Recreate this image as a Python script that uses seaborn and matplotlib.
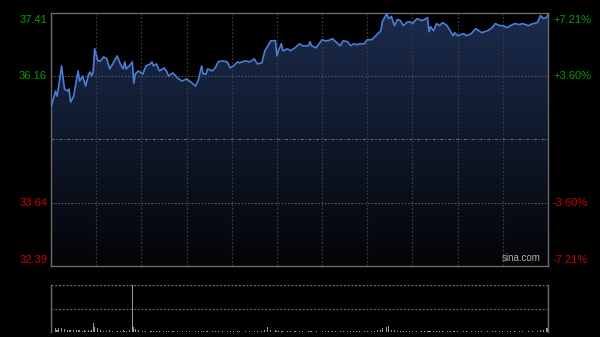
import numpy as np
import pandas as pd
import matplotlib
matplotlib.use("Agg")
import matplotlib.pyplot as plt
import seaborn as sns

# ---- data ----
minutes = [0, 3, 4, 5, 7, 9, 11, 12, 13, 15,
           17, 18, 19, 21, 22, 23, 25, 26, 27, 28,
           29, 31, 33, 35, 37, 39, 41, 44, 46, 48,
           49, 50, 52, 54, 55, 56, 58, 61, 63, 66,
           67, 68, 70, 72, 75, 77, 78, 81, 84, 87,
           90, 92, 96, 98, 100, 101, 103, 104, 107, 109,
           111, 114, 117, 119, 121, 124, 125, 129, 132, 135,
           137, 140, 142, 144, 146, 149, 150, 151, 153, 154,
           157, 159, 162, 165, 167, 171, 172, 173, 176, 180,
           182, 184, 187, 189, 192, 194, 197, 199, 201, 203,
           205, 208, 210, 213, 215, 217, 219, 220, 223, 224,
           226, 228, 230, 232, 234, 236, 238, 240, 243, 246,
           248, 250, 251, 252, 254, 256, 258, 260, 263, 265,
           267, 268, 270, 274, 276, 279, 282, 284, 286, 290,
           293, 295, 298, 300, 303, 305, 308, 311, 313, 317,
           320, 323, 325, 327, 329, 330]

prices = [35.54, 35.86, 35.76, 35.94, 36.36, 35.90, 35.86, 35.90, 35.64, 35.76,
          36.10, 36.26, 36.06, 36.16, 36.06, 35.96, 36.20, 36.24, 36.16, 36.24,
          36.70, 36.46, 36.46, 36.54, 36.50, 36.30, 36.40, 36.56, 36.40, 36.30,
          36.44, 36.30, 36.36, 36.44, 36.02, 36.20, 36.26, 36.20, 36.36, 36.40,
          36.44, 36.36, 36.40, 36.26, 36.32, 36.24, 36.16, 36.22, 36.12, 36.06,
          36.10, 36.06, 35.96, 36.10, 36.36, 36.20, 36.20, 36.30, 36.26, 36.32,
          36.44, 36.46, 36.44, 36.32, 36.36, 36.44, 36.42, 36.46, 36.44, 36.50,
          36.40, 36.42, 36.66, 36.76, 36.86, 36.86, 36.56, 36.66, 36.80, 36.66,
          36.70, 36.66, 36.72, 36.80, 36.76, 36.76, 36.84, 36.76, 36.72, 36.88,
          36.86, 36.86, 36.90, 36.84, 36.76, 36.86, 36.84, 36.76, 36.80, 36.78,
          36.80, 36.80, 36.88, 36.88, 36.94, 37.00, 37.06, 37.24, 37.40, 37.30,
          37.34, 37.16, 37.28, 37.26, 37.16, 37.22, 37.24, 37.20, 37.30, 37.26,
          37.28, 37.32, 37.04, 37.14, 37.06, 37.20, 37.16, 37.22, 37.16, 37.06,
          36.96, 37.02, 36.96, 37.00, 36.96, 37.00, 37.10, 37.06, 37.02, 37.06,
          37.12, 37.20, 37.16, 37.16, 37.12, 37.16, 37.20, 37.18, 37.20, 37.16,
          37.20, 37.22, 37.36, 37.30, 37.32, 37.38]

volumes = [6, 8, 5, 8, 8, 6, 5, 4, 5, 4,
           4, 5, 4, 3, 4, 3, 4, 3, 4, 19,
           10, 8, 4, 3, 3, 4, 3, 3, 3, 4,
           3, 3, 4, 100, 10, 6, 4, 3, 3, 3,
           3, 3, 3, 3, 3, 3, 3, 3, 3, 3,
           3, 3, 3, 3, 3, 3, 3, 3, 3, 3,
           3, 3, 3, 3, 3, 3, 3, 3, 3, 3,
           3, 3, 4, 10, 5, 4, 3, 3, 3, 3,
           3, 3, 3, 3, 3, 3, 3, 3, 3, 3,
           3, 3, 3, 3, 3, 3, 3, 3, 3, 3,
           3, 3, 3, 3, 3, 4, 5, 8, 10, 13,
           5, 4, 3, 3, 3, 3, 3, 3, 3, 3,
           3, 3, 3, 3, 3, 3, 3, 3, 3, 3,
           3, 3, 3, 3, 3, 3, 3, 3, 3, 3,
           3, 3, 3, 3, 3, 3, 3, 3, 3, 3,
           3, 3, 4, 5, 8, 9]

prev_close = 34.90
price_ticks = [37.41, 36.16, 33.64, 32.39]
pct_labels = ["+7.21%", "+3.60%", "-3.60%", "-7.21%"]
grid_minutes = [30, 60, 90, 120, 150, 180, 210, 240, 270, 300]
session_end = 330

df = pd.DataFrame({"minute": minutes, "price": prices, "volume": volumes})

# ---- style ----
sns.set_style("dark", {"axes.facecolor": "black", "figure.facecolor": "black"})
plt.rcParams["font.family"] = ["Liberation Sans", "DejaVu Sans"]

fig = plt.figure(figsize=(6.0, 3.37), dpi=100, facecolor="black")
ax = fig.add_axes([51 / 600, 71 / 337, 497 / 600, 253 / 337])
axv = fig.add_axes([51 / 600, 5 / 337, 497 / 600, 47 / 337])

ymin, ymax = price_ticks[-1], price_ticks[0]
ax.set_facecolor("black")
ax.set_xlim(0, session_end)
ax.set_ylim(ymin, ymax)

# gradient fill under line
poly = ax.fill_between(df["minute"], df["price"], ymin, facecolor="none", edgecolor="none")
top_c = np.array([28, 44, 78]) / 255
bot_c = np.array([3, 4, 7]) / 255
t = np.linspace(1, 0, 256)[:, None]
grad = (bot_c[None, :] + (top_c - bot_c)[None, :] * t)[:, None, :]
grad = np.repeat(grad, 2, axis=1)
im = ax.imshow(grad, extent=[0, session_end, ymin, ymax], aspect="auto", zorder=1,
               interpolation="bilinear")
im.set_clip_path(poly.get_paths()[0], transform=ax.transData)

# grid lines
for gm in grid_minutes:
    ax.axvline(gm, color="#3a3a3a", lw=0.9, ls=(0, (1.5, 1.5)), zorder=2)
for p in [price_ticks[1], price_ticks[2]]:
    ax.axhline(p, color="#555555", lw=0.8, ls=(0, (1.5, 1.5)), zorder=2)
ax.axhline(prev_close, color="#666666", lw=0.8, ls=(0, (3, 1.5, 1, 1.5)), zorder=2)

sns.lineplot(data=df, x="minute", y="price", ax=ax, color="#4a7ed6", lw=1.2, zorder=4)

ax.set_xticks([])
ax.set_yticks([])
ax.set_xlabel("")
ax.set_ylabel("")
ax.grid(False)
for s in ax.spines.values():
    s.set_visible(True)
    s.set_color("#6a6a6a")
    s.set_linewidth(1.0)

# axis labels
colors = ["#089c08", "#089c08", "#d00000", "#d00000"]
vas = ["top", "center", "center", "bottom"]
offs = [-0.03, 0, 0, 0.02]
for p, lab, c, va, o in zip(price_ticks, pct_labels, colors, vas, offs):
    ax.text(-0.008, p + o, f"{p:.2f}", transform=ax.get_yaxis_transform(),
            ha="right", va=va, color=c, fontsize=8)
    ax.text(1.01, p + o, lab, transform=ax.get_yaxis_transform(),
            ha="left", va=va, color=c, fontsize=8)

ax.text(0.985, 0.012, "sina.com", transform=ax.transAxes, ha="right", va="bottom",
        color="#b0b0b0", fontsize=7)

# volume panel
axv.set_facecolor("black")
axv.bar(df["minute"], df["volume"], width=0.7, color="#9a9a9a", linewidth=0)
axv.set_xlim(0, session_end)
axv.set_ylim(0, 100)
axv.axhline(100, color="#777777", lw=0.9, ls=(0, (1.5, 1.5)))
axv.axhline(50, color="#666666", lw=0.9, ls=(0, (1.5, 1.5)))
axv.set_xticks([])
axv.set_yticks([])
axv.grid(False)
for k, s in axv.spines.items():
    s.set_color("#6a6a6a")
    s.set_linewidth(1.0)
    s.set_visible(k in ("left", "right"))

fig.savefig("out.png", dpi=100, facecolor="black")
